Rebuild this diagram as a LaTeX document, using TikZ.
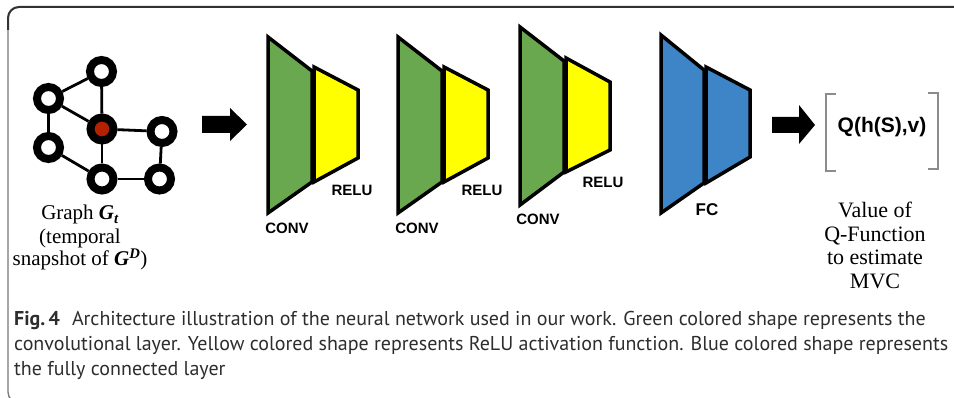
\documentclass[tikz,border=0pt]{standalone}
\usepackage{graphicx}
\usepackage{fontspec}
\setmainfont{Liberation Serif}
\setsansfont{Liberation Sans}
\newfontfamily\capfont{PT Sans}

\definecolor{convgreen}{RGB}{106,168,79}
\definecolor{reluyellow}{RGB}{255,255,0}
\definecolor{fcblue}{RGB}{61,133,198}
\definecolor{hubred}{RGB}{178,34,0}
\definecolor{captext}{RGB}{45,45,45}
\definecolor{framegray}{RGB}{120,120,120}
\definecolor{bracketgray}{RGB}{140,140,140}

\newlength\caplinelen
\settowidth\caplinelen{\capfont\fontsize{20}{24}\selectfont convolutional layer. Yellow colored shape represents ReLU activation function. Blue colored shape represents}

\begin{document}
\begin{tikzpicture}[x=1pt,y=-1pt,
  gnode/.style={circle, draw=black, line width=8pt, minimum size=23pt, inner sep=0pt, fill=white},
  hub/.style={gnode, fill=hubred},
  gedge/.style={line width=2.8pt},
  layerbox/.style={draw=black, line width=3.5pt, line join=miter},
  blockarrow/.style={fill=black},
  tag/.style={font=\sffamily\bfseries\fontsize{15}{18}\selectfont, inner sep=0pt},
  serifline/.style={font=\fontsize{21}{24}\selectfont, anchor=base, inner sep=0pt},
  valline/.style={font=\fontsize{22}{25}\selectfont, anchor=base, inner sep=0pt},
  capline/.style={font=\capfont\fontsize{20}{24}\selectfont, text=captext, anchor=base west, inner sep=0pt},
  bracket/.style={draw=bracketgray, line width=1.5pt}
]
\useasboundingbox (0,0) rectangle (954,398);
\clip (0,0) rectangle (954,398);
\pgfmathsetmacro\capsx{934/\caplinelen}

% frame: light left edge, darker top edge
\draw[framegray, line width=1.3pt, rounded corners=11pt] (960,7) -- (8,7) -- (8,403) -- (100,403);
\draw[black!80, line width=2pt, rounded corners=11pt] (8,30) -- (8,7) -- (960,7);

% input graph
\node[gnode] (top) at (101.5,71.5) {};
\node[gnode] (ul)  at (48.5,98.5) {};
\node[hub]   (mid) at (102,129) {};
\node[gnode] (rt)  at (162,131.5) {};
\node[gnode] (ll)  at (48.5,147.5) {};
\node[gnode] (bc)  at (102,179) {};
\node[gnode] (br)  at (159.5,179) {};
\draw[gedge] (top) -- (ul);
\draw[gedge] (top) -- (mid);
\draw[gedge] (ul) -- (mid);
\draw[gedge] (ul) -- (ll);
\draw[gedge] (mid) -- (rt);
\draw[gedge] (mid) -- (bc);
\draw[gedge] (ll) -- (bc);
\draw[gedge] (bc) -- (br);
\draw[gedge] (rt) -- (br);

\node[serifline] (gt1) at (80,220) {Graph \textbf{\textit{G\textsubscript{t}}}};
\node[serifline] (gt2) at (80,244) {(temporal};
\node[serifline] (gt3) at (80,266) {snapshot of \textbf{\textit{G\textsuperscript{D}}})};

% arrow into the network
\fill[blockarrow] (202,116) -- (230,116) -- (230,108) -- (247,124.5) -- (230,141) -- (230,133) -- (202,133) -- cycle;

% conv + relu block 1
\filldraw[layerbox, fill=convgreen] (268,37) -- (312,71) -- (312,182) -- (268,213) -- cycle;
\filldraw[layerbox, fill=reluyellow] (314,67) -- (358,90) -- (358,158) -- (314,182) -- cycle;
\node[tag] (conv1) at (287,228) {CONV};
\node[tag] (relu1) at (352,190) {RELU};

% conv + relu block 2
\filldraw[layerbox, fill=convgreen] (398,37) -- (442,71) -- (442,182) -- (398,213) -- cycle;
\filldraw[layerbox, fill=reluyellow] (444,67) -- (488,90) -- (488,158) -- (444,182) -- cycle;
\node[tag] (conv2) at (417,228) {CONV};
\node[tag] (relu2) at (482,190) {RELU};

% conv + relu block 3
\filldraw[layerbox, fill=convgreen] (520,27) -- (564,61) -- (564,172) -- (520,205) -- cycle;
\filldraw[layerbox, fill=reluyellow] (566,58) -- (610,82) -- (610,150) -- (566,172) -- cycle;
\node[tag] (conv3) at (538,219) {CONV};
\node[tag] (relu3) at (603,182) {RELU};

% fully connected block
\filldraw[layerbox, fill=fcblue] (661,35) -- (704,70) -- (704,183) -- (661,213) -- cycle;
\filldraw[layerbox, fill=fcblue] (706,67) -- (750,90) -- (750,157) -- (706,183) -- cycle;
\node[tag, font=\sffamily\bfseries\fontsize{17}{20}\selectfont] (fc) at (707,210) {FC};

% arrow to the output
\fill[blockarrow] (772,117) -- (799,117) -- (799,105) -- (815,125) -- (799,144) -- (799,133) -- (772,133) -- cycle;

% output vector
\node[font=\sffamily\bfseries\fontsize{21}{24}\selectfont, inner sep=0pt] (q) at (882,127) {Q(h(S),v)};
\draw[bracket] (836,94) -- (826,94) -- (826,171) -- (836,171);
\draw[bracket] (928,93) -- (938,93) -- (938,169) -- (928,169);

\node[valline] (v1) at (875,218) {Value of};
\node[valline] (v2) at (875,241.5) {Q-Function};
\node[valline] (v3) at (875,265) {to estimate};
\node[valline] (v4) at (875,289) {MVC};

% caption
\node[capline] (cap1) at (14,326) {\scalebox{\capsx}[1]{\textbf{Fig.\,4}\hspace{0.6em}Architecture illustration of the neural network used in our work. Green colored shape represents the}};
\node[capline] (cap2) at (14,351) {\scalebox{\capsx}[1]{convolutional layer. Yellow colored shape represents ReLU activation function. Blue colored shape represents}};
\node[capline] (cap3) at (14,375) {\scalebox{\capsx}[1]{the fully connected layer}};
\end{tikzpicture}
\end{document}
